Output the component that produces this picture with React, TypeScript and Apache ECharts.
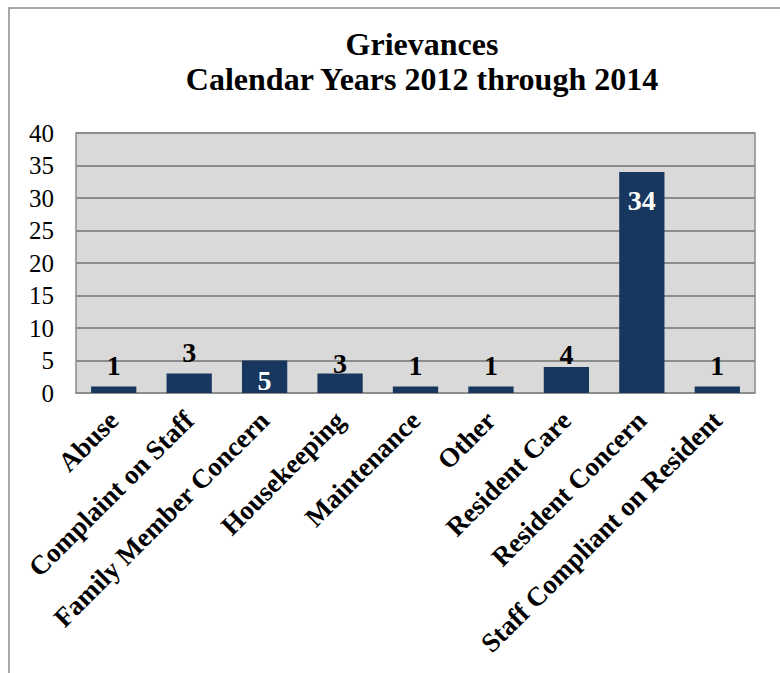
import React, { useEffect, useRef } from "react";
import * as echarts from "echarts";

const categories = [
  "Abuse",
  "Complaint on Staff",
  "Family Member Concern",
  "Housekeeping",
  "Maintenance",
  "Other",
  "Resident Care",
  "Resident Concern",
  "Staff Compliant on Resident",
];
const values = [1, 3, 5, 3, 1, 1, 4, 34, 1];
const titleLines = ["Grievances", "Calendar Years 2012 through 2014"];

// label placement per bar (style only)
const labelStyles: any[] = [
  { position: "top", distance: 7 },
  { position: "top", distance: 7 },
  { position: "insideBottom", distance: -1, color: "#ffffff" },
  { position: "top", distance: -4 },
  { position: "top", distance: 7 },
  { position: "top", distance: 7 },
  { position: "top", distance: -1 },
  { position: "insideTop", distance: 14, color: "#ffffff" },
  { position: "top", distance: 7 },
];

const FONT = "'Liberation Serif', 'Times New Roman', serif";

export default function App() {
  const ref = useRef<HTMLDivElement>(null);
  useEffect(() => {
    if (!ref.current) return;
    const chart = echarts.init(ref.current, null, { renderer: "svg" });
    chart.setOption({
      animation: false,
      backgroundColor: "#ffffff",
      textStyle: { fontFamily: FONT },
      title: {
        text: titleLines.join("\n"),
        left: 417,
        top: 21,
        textAlign: "center",
        textStyle: {
          fontFamily: FONT,
          fontSize: 32,
          fontWeight: "bold",
          color: "#000000",
          lineHeight: 35,
        },
      },
      graphic: [
        {
          type: "rect",
          shape: { x: 9, y: 8, width: 900, height: 800 },
          style: { fill: "none", stroke: "#8c8c8c", lineWidth: 1.5 },
          silent: true,
          z: -1,
        },
      ],
      grid: {
        left: 76,
        right: 25,
        top: 133,
        bottom: 280,
        show: true,
        backgroundColor: "#d9d9d9",
        borderColor: "#8c8c8c",
        borderWidth: 1.5,
        containLabel: false,
      },
      xAxis: {
        type: "category",
        data: categories,
        axisLine: { show: true, lineStyle: { color: "#8c8c8c", width: 1.5 } },
        axisTick: { show: false },
        axisLabel: {
          interval: 0,
          rotate: 45,
          margin: 23,
          fontFamily: FONT,
          fontSize: 27,
          fontWeight: "bold",
          color: "#000000",
        },
      },
      yAxis: {
        type: "value",
        min: 0,
        max: 40,
        interval: 5,
        axisLine: { show: false },
        axisTick: { show: false },
        axisLabel: {
          margin: 22,
          fontFamily: FONT,
          fontSize: 25,
          color: "#000000",
        },
        splitLine: { show: true, lineStyle: { color: "#8c8c8c", width: 2 } },
      },
      series: [
        {
          type: "bar",
          barWidth: "60%",
          itemStyle: { color: "#17375e" },
          data: values.map((v, i) => ({
            value: v,
            label: {
              show: true,
              fontFamily: FONT,
              fontSize: 28,
              fontWeight: "bold",
              color: "#000000",
              ...labelStyles[i],
            },
          })),
        },
      ],
    });
    return () => chart.dispose();
  }, []);
  return (
    <div
      ref={ref}
      style={{ position: "fixed", left: 0, top: 0, width: 780, height: 673 }}
    />
  );
}
